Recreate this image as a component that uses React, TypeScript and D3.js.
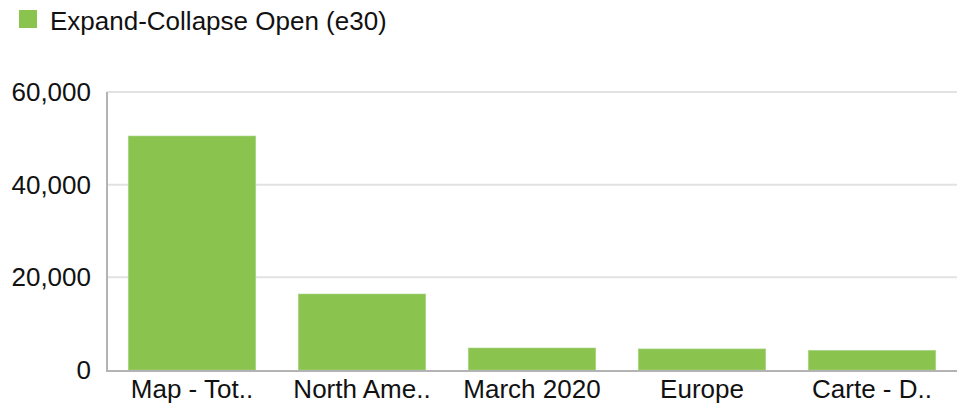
import * as d3 from "d3";

const categories = ["Map - Tot..", "North Ame..", "March 2020", "Europe", "Carte - D.."];
const values = [50500, 16400, 4750, 4550, 4250];
const yTicks = [0, 20000, 40000, 60000];
const seriesName = "Expand-Collapse Open (e30)";

const W = 957;
const H = 405;
const margin = { top: 92, right: 0, bottom: 35, left: 107 };
const BAR = "#8bc34f";

export default function App() {
  const x = d3
    .scaleBand<string>()
    .domain(categories)
    .range([margin.left, W - margin.right])
    .paddingInner(0.25)
    .paddingOuter(0.125);
  const y = d3.scaleLinear().domain([0, 60000]).range([H - margin.bottom, margin.top]);
  const fmt = d3.format(",");
  const font = "'Liberation Sans', Arial, sans-serif";

  return (
    <svg
      width={W}
      height={H}
      style={{ position: "absolute", left: 0, top: 0, fontFamily: font }}
    >
      {/* legend */}
      <rect x={19} y={10} width={18} height={18} fill={BAR} />
      <text x={50} y={30} fontSize={26} fill="#111">
        {seriesName}
      </text>

      {/* grid */}
      {yTicks.filter((t) => t > 0).map((t) => (
        <line
          key={t}
          x1={margin.left}
          x2={W}
          y1={y(t)}
          y2={y(t)}
          stroke="#e2e2e2"
          strokeWidth={2}
        />
      ))}

      {/* bars */}
      {categories.map((c, i) => (
        <rect
          key={c}
          x={x(c)}
          y={y(values[i])}
          width={x.bandwidth()}
          height={y(0) - y(values[i])}
          fill={BAR}
          stroke="#a9d68a"
          strokeWidth={0.6}
        />
      ))}

      {/* axes */}
      <line x1={margin.left} x2={margin.left} y1={y(60000)} y2={y(0) + 1} stroke="#b3b3b3" strokeWidth={2} />
      <line x1={margin.left - 1} x2={W} y1={y(0) + 1} y2={y(0) + 1} stroke="#b3b3b3" strokeWidth={2} />

      {yTicks.map((t) => (
        <text key={t} x={91} y={y(t) + 9} textAnchor="end" fontSize={26} fill="#111">
          {fmt(t)}
        </text>
      ))}

      {categories.map((c) => (
        <text
          key={c}
          x={(x(c) ?? 0) + x.bandwidth() / 2}
          y={398}
          textAnchor="middle"
          fontSize={26}
          fill="#111"
        >
          {c}
        </text>
      ))}
    </svg>
  );
}
